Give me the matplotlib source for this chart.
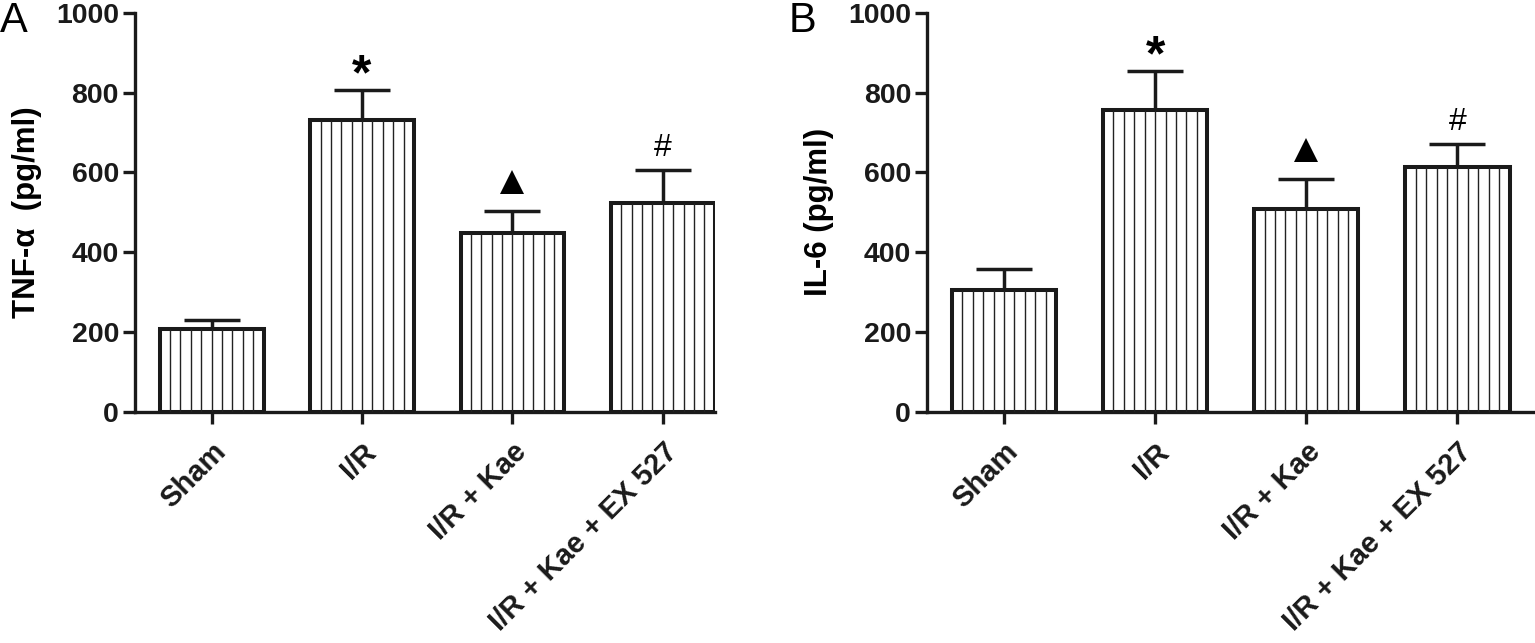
import matplotlib
matplotlib.use('Agg')
import matplotlib.pyplot as plt
import matplotlib.transforms as mtransforms
import numpy as np

# groups and values
groups = ['Sham', 'I/R', 'I/R + Kae', 'I/R + Kae + EX 527']
tnf_mean = [209, 730, 448, 523]
tnf_sem = [21, 76, 56, 83]
il6_mean = [305, 756, 508, 614]
il6_sem = [54, 97, 76, 57]
sig_marks = ['', '*', 'tri', '#']
yticks = [0, 200, 400, 600, 800, 1000]

plt.rcParams['font.family'] = ['Liberation Sans', 'DejaVu Sans']
ink = '#1a1a1a'

fig = plt.figure(figsize=(15.35, 6.43), dpi=100)
axA = fig.add_axes([0.0879, 0.3593, 0.3779, 0.621])
axB = fig.add_axes([0.6039, 0.3593, 0.3948, 0.621])


def offset(ax, pts):
    return ax.transData + mtransforms.ScaledTranslation(0, pts / 72, fig.dpi_scale_trans)


def panel(ax, means, sems, ylabel, xmax):
    x = np.arange(len(groups))
    w = 0.69
    ax.bar(x, means, width=w, color='white', edgecolor=ink, linewidth=2.9, zorder=2)
    # vertical line fill, 10 strips per bar
    for xi, m in zip(x, means):
        xs = xi - w / 2 + w * np.arange(1, 10) / 10
        ax.vlines(xs, 0, m, color='#222222', linewidth=1.0, zorder=3)
    ax.errorbar(x, means, yerr=[np.zeros(len(means)), sems], fmt='none', ecolor=ink,
                elinewidth=2.5, capsize=20, capthick=2.5, zorder=1)

    tops = np.array(means) + np.array(sems)
    for xi, t, mk in zip(x, tops, sig_marks):
        if mk == 'tri':
            ax.plot([xi], [t], marker='^', ms=17, color='black', mew=0,
                    transform=offset(ax, 21), clip_on=False)
        elif mk == '*':
            ax.text(xi, t, '*', transform=offset(ax, 0.5), ha='center', va='baseline',
                    fontsize=36, fontweight='bold', color='black')
        elif mk == '#':
            ax.text(xi, t, '#', transform=offset(ax, 10), ha='center', va='baseline',
                    fontsize=23, color='black')

    ax.set_xlim(-0.51, xmax)
    ax.set_ylim(0, 1000)
    ax.set_yticks(yticks)
    ax.set_xticks(x)
    ax.set_xticklabels(groups, rotation=45, ha='right', va='top', rotation_mode='anchor',
                       fontsize=21, fontweight='bold')
    for lab in ax.get_yticklabels():
        lab.set_fontsize(20.5)
        lab.set_fontweight('bold')
    for s in ['top', 'right']:
        ax.spines[s].set_visible(False)
    for s in ['left', 'bottom']:
        ax.spines[s].set_linewidth(2.4)
        ax.spines[s].set_color(ink)
    ax.tick_params(axis='y', direction='out', length=8.5, width=2.4, pad=3, colors=ink)
    ax.tick_params(axis='x', direction='out', length=8.5, width=2.4, pad=10, colors=ink)
    ax.set_ylabel(ylabel, fontsize=22.5, fontweight='bold')
    wpx = ax.get_position().width * fig.get_figwidth() * fig.dpi
    ax.yaxis.set_label_coords(-93 / wpx, 0.5)


panel(axA, tnf_mean, tnf_sem, 'TNF-\u03b1  (pg/ml)', 3.347)
panel(axB, il6_mean, il6_sem, 'IL-6 (pg/ml)', 3.50)

fig.text(0.0, 1 - 32 / 643, 'A', fontsize=30, va='baseline', ha='left')
fig.text(0.5135, 1 - 32 / 643, 'B', fontsize=30, va='baseline', ha='left')

fig.savefig('out.png', dpi=100, facecolor='white')
